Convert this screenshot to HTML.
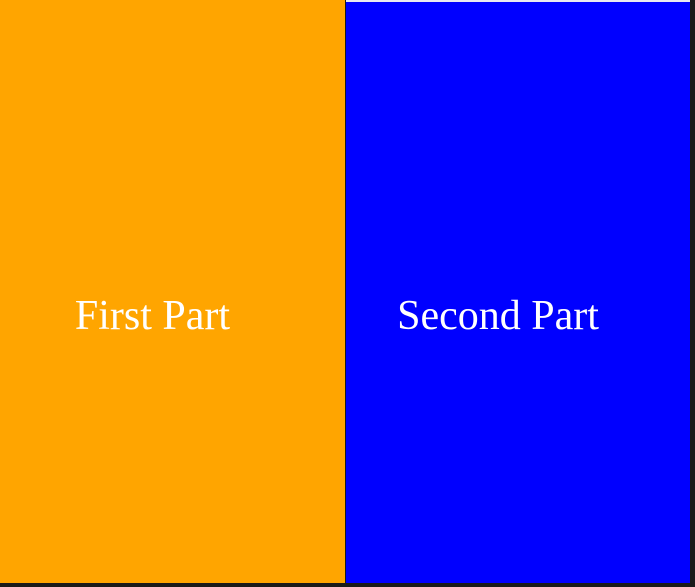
<!DOCTYPE html>
<html><head><meta charset="utf-8"><style>
html,body{margin:0;padding:0;width:695px;height:587px;overflow:hidden;background:#1a1a1a;}
#wrap{position:relative;width:695px;height:587px;}
.part{position:absolute;color:#fff;font-family:"Liberation Serif",serif;font-size:42px;}
</style></head><body>
<div id="wrap">
<div class="part" style="left:0;top:0;width:345px;height:583px;background:#ffa500;"><span style="position:absolute;top:292px;left:0;width:305px;text-align:center;">First Part</span></div>
<div class="part" style="left:346px;top:0;width:344px;height:583px;background:#0000ff;border-top:2px solid #e8e8f0;box-sizing:border-box;"><span style="position:absolute;top:290px;left:0;width:304px;text-align:center;">Second Part</span></div>
</div>
</body></html>
